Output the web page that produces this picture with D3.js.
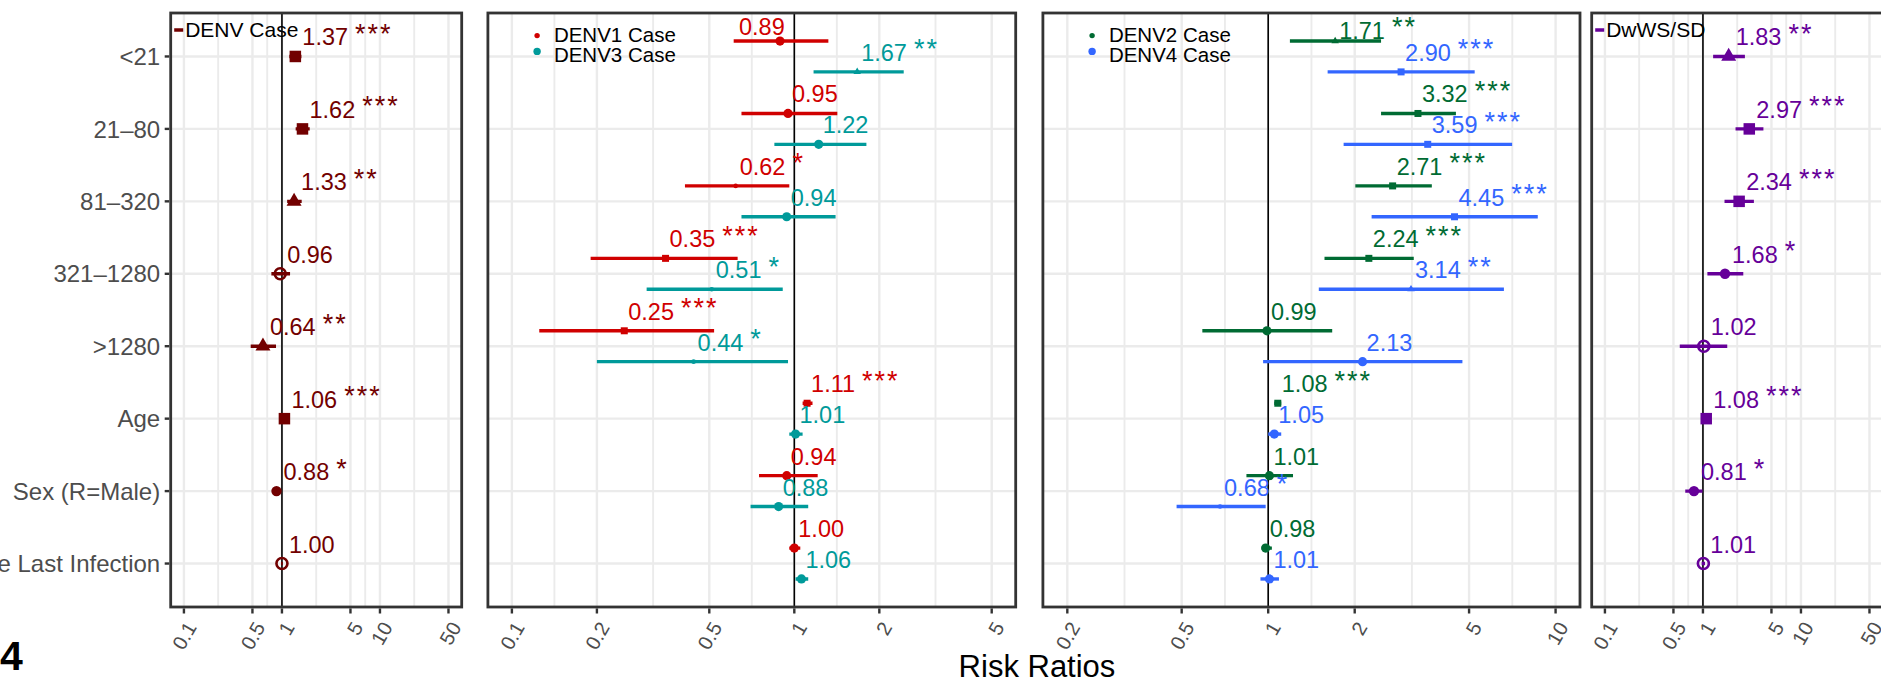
<!DOCTYPE html>
<html><head><meta charset="utf-8">
<script src="https://cdn.jsdelivr.net/npm/d3@7"></script>
<style>html,body{margin:0;padding:0;background:#fff;overflow:hidden}</style>
</head><body><svg id="c" width="1881" height="682"></svg>
<script>
// ---------------- data ----------------
const categories = ["<21","21\u201380","81\u2013320","321\u20131280",">1280","Age","Sex (R=Male)","Time Since Last Infection"];
const ticksWide   = [0.1,0.5,1,5,10,50];
const ticksDenv13 = [0.1,0.2,0.5,1,2,5];
const ticksDenv24 = [0.2,0.5,1,2,5,10];

const denvRR  = [1.37,1.62,1.33,0.96,0.64,1.06,0.88,1.00];
const denvLo  = [1.19,1.38,1.13,0.78,0.48,1.04,0.84,0.98];
const denvHi  = [1.58,1.92,1.59,1.21,0.87,1.08,0.93,1.02];
const denvSig = ["***","***","**","","**","***","*",""];

const denv1RR  = [0.89,0.95,0.62,0.35,0.25,1.11,0.94,1.00];
const denv1Lo  = [0.61,0.65,0.41,0.19,0.125,1.07,0.75,0.96];
const denv1Hi  = [1.32,1.42,0.96,0.63,0.52,1.16,1.21,1.05];
const denv1Sig = ["","","*","***","***","***","",""];

const denv3RR  = [1.67,1.22,0.94,0.51,0.44,1.01,0.88,1.06];
const denv3Lo  = [1.17,0.85,0.65,0.30,0.20,0.96,0.70,1.01];
const denv3Hi  = [2.44,1.80,1.40,0.91,0.95,1.07,1.12,1.12];
const denv3Sig = ["**","","","*","*","","",""];

const denv2RR  = [1.71,3.32,2.71,2.24,0.99,1.08,1.01,0.98];
const denv2Lo  = [1.19,2.47,2.01,1.57,0.59,1.05,0.84,0.95];
const denv2Hi  = [2.47,4.50,3.71,3.21,1.67,1.11,1.22,1.03];
const denv2Sig = ["**","***","***","***","","***","",""];

const denv4RR  = [2.90,3.59,4.45,3.14,2.13,1.05,0.68,1.01];
const denv4Lo  = [1.61,1.83,2.29,1.50,0.96,1.00,0.48,0.94];
const denv4Hi  = [5.23,7.06,8.67,6.61,4.74,1.11,0.98,1.09];
const denv4Sig = ["***","***","***","**","","","*",""];

const dwRR  = [1.83,2.97,2.34,1.68,1.02,1.08,0.81,1.01];
const dwLo  = [1.27,2.15,1.66,1.11,0.58,1.05,0.66,0.97];
const dwHi  = [2.68,4.14,3.31,2.58,1.77,1.11,0.99,1.05];
const dwSig = ["**","***","***","*","","***","*",""];

// ---------------- drawing ----------------
const svg = d3.select("#c");
const FONT = "'Liberation Sans', Arial, Helvetica, sans-serif";
svg.append("rect").attr("width",1881).attr("height",682).attr("fill","#fff");

const TOP = 13, BOTTOM = 607;
const y = d3.scalePoint().domain(categories).range([TOP, BOTTOM]).padding(0.6);
const step = y.step();

function mk(name, color, rr, lo, hi, sig){
  return {name, color, rows: categories.map((c,i)=>({cat:c, rr:rr[i], lo:lo[i], hi:hi[i], sig:sig[i]}))};
}

const panels = [
  {x0:170.7, x1:461.7, ticks:ticksWide, big:true, legend:"line", yaxis:true,
   series:[mk("DENV Case","#720000",denvRR,denvLo,denvHi,denvSig)]},
  {x0:487.9, x1:1015.7, ticks:ticksDenv13, big:false, legend:"dot",
   series:[mk("DENV1 Case","#D00000",denv1RR,denv1Lo,denv1Hi,denv1Sig),
           mk("DENV3 Case","#009A9A",denv3RR,denv3Lo,denv3Hi,denv3Sig)]},
  {x0:1042.9, x1:1580, ticks:ticksDenv24, big:false, legend:"dot",
   series:[mk("DENV2 Case","#006B33",denv2RR,denv2Lo,denv2Hi,denv2Sig),
           mk("DENV4 Case","#3366FF",denv4RR,denv4Lo,denv4Hi,denv4Sig)]},
  {x0:1591.7, x1:1882.7, ticks:ticksWide, big:true, legend:"line",
   series:[mk("DwWS/SD","#660099",dwRR,dwLo,dwHi,dwSig)]}
];

// label repel adjustment (ggrepel moved this one label left)
const repel = {"DENV1 Case|<21": -45};

panels.forEach((p, pi) => {
  const lt = d3.extent(p.ticks, t => Math.log10(t));
  const ex = (lt[1]-lt[0]) * 0.05;
  const x = d3.scaleLog().domain([Math.pow(10, lt[0]-ex), Math.pow(10, lt[1]+ex)]).range([p.x0, p.x1]);
  const g = svg.append("g");
  const clipId = "clip" + pi;
  svg.append("clipPath").attr("id", clipId).append("rect")
     .attr("x", p.x0).attr("y", TOP).attr("width", p.x1-p.x0).attr("height", BOTTOM-TOP);
  const inner = g.append("g").attr("clip-path", `url(#${clipId})`);

  // minor breaks
  const logs = p.ticks.map(t=>Math.log10(t));
  const minors = [];
  for (let i=0;i<logs.length-1;i++) minors.push((logs[i]+logs[i+1])/2);
  minors.push(logs[0] - (logs[1]-logs[0])/2);
  minors.push(logs[logs.length-1] + (logs[logs.length-1]-logs[logs.length-2])/2);
  const dom = x.domain().map(Math.log10);
  inner.selectAll(".minor").data(minors.filter(m=>m>dom[0] && m<dom[1])).join("line")
    .attr("x1", m=>x(Math.pow(10,m))).attr("x2", m=>x(Math.pow(10,m)))
    .attr("y1", TOP).attr("y2", BOTTOM).attr("stroke","#EBEBEB").attr("stroke-width",1.9);
  inner.selectAll(".major").data(p.ticks).join("line")
    .attr("x1", d=>x(d)).attr("x2", d=>x(d)).attr("y1", TOP).attr("y2", BOTTOM)
    .attr("stroke","#EBEBEB").attr("stroke-width",2.4);
  inner.selectAll(".hgrid").data(categories).join("line")
    .attr("x1", p.x0).attr("x2", p.x1).attr("y1", d=>y(d)).attr("y2", d=>y(d))
    .attr("stroke","#EBEBEB").attr("stroke-width",2.4);

  // reference line at 1
  inner.append("line").attr("x1", x(1)).attr("x2", x(1)).attr("y1", TOP).attr("y2", BOTTOM)
    .attr("stroke","#000").attr("stroke-width",1.6);

  const nS = p.series.length;
  const dodge = d => nS === 1 ? 0 : (d === 0 ? -1 : 1) * step * 0.213;

  p.series.forEach((s, si) => {
    const off = dodge(si);
    // error bars
    inner.selectAll(null).data(s.rows).join("line")
      .attr("x1", d=>x(d.lo)).attr("x2", d=>x(d.hi))
      .attr("y1", d=>y(d.cat)+off).attr("y2", d=>y(d.cat)+off)
      .attr("stroke", s.color).attr("stroke-width", 3.4);
    // points
    s.rows.forEach(d => {
      const cx = x(d.rr), cy = y(d.cat)+off;
      if (d.sig === "***") {
        const a = p.big ? 11.5 : 7;
        inner.append("rect").attr("x", cx-a/2).attr("y", cy-a/2).attr("width", a).attr("height", a).attr("fill", s.color);
      } else if (d.sig === "**") {
        const t = p.big ? 15 : 7.5;
        inner.append("path").attr("d", d3.symbol(d3.symbolTriangle, Math.sqrt(3)/4*t*t)())
          .attr("transform", `translate(${cx},${cy})`).attr("fill", s.color);
      } else if (d.sig === "*") {
        inner.append("circle").attr("cx", cx).attr("cy", cy).attr("r", p.big ? 5.2 : 2.3).attr("fill", s.color);
      } else {
        if (p.big) {
          inner.append("circle").attr("cx", cx).attr("cy", cy).attr("r", 5.5)
            .attr("fill","none").attr("stroke", s.color).attr("stroke-width", 2.6);
        } else {
          inner.append("circle").attr("cx", cx).attr("cy", cy).attr("r", 4.6).attr("fill", s.color);
        }
      }
    });
    // labels
    s.rows.forEach(d => {
      const cx = x(d.rr), cy = y(d.cat)+off;
      let lx = cx + (p.big ? 7 : 4);
      let lc = cy - 19.5;
      const key = s.name + "|" + d.cat;
      if (repel[key] !== undefined) { lx += repel[key]; lc = TOP + 13; }
      else if (lc < TOP + 17) lc = TOP + 17;
      const t = inner.append("text").attr("x", lx).attr("y", lc + 8.5)
        .attr("font-family", FONT).attr("font-size", 23.5).attr("fill", s.color)
        .text(d.rr.toFixed(2));
      if (d.sig) {
        t.append("tspan").attr("dx", 7).attr("dy", -2.5).attr("font-size", 27)
          .attr("letter-spacing", 2).text(d.sig);
      }
    });
  });

  // legend
  if (p.legend === "line") {
    const s = p.series[0];
    g.append("line").attr("x1", p.x0+3.5).attr("x2", p.x0+12.5).attr("y1", 30).attr("y2", 30)
      .attr("stroke", s.color).attr("stroke-width", 3.5);
    g.append("text").attr("x", p.x0+14.5).attr("y", 29.5+7.5).attr("font-family", FONT)
      .attr("font-size", 21).attr("fill","#000").text(s.name);
  } else {
    const dotY = [35.6, 51.4], txtY = [34.6, 55], rs = [2.7, 3.7];
    p.series.forEach((s, si) => {
      g.append("circle").attr("cx", p.x0+49.2).attr("cy", dotY[si]).attr("r", rs[si]).attr("fill", s.color);
      g.append("text").attr("x", p.x0+66).attr("y", txtY[si]+7.4).attr("font-family", FONT)
        .attr("font-size", 20.5).attr("fill","#000").text(s.name);
    });
  }

  // border
  g.append("rect").attr("x", p.x0).attr("y", TOP).attr("width", p.x1-p.x0).attr("height", BOTTOM-TOP)
    .attr("fill","none").attr("stroke","#333333").attr("stroke-width",2.8);

  // x axis ticks + labels
  g.selectAll(null).data(p.ticks).join("line")
    .attr("x1", d=>x(d)).attr("x2", d=>x(d)).attr("y1", BOTTOM+1.4).attr("y2", BOTTOM+6.5)
    .attr("stroke","#333333").attr("stroke-width",2.4);
  g.selectAll(null).data(p.ticks).join("text")
    .attr("transform", d=>`translate(${x(d)+1},${BOTTOM+13}) rotate(-60)`)
    .attr("text-anchor","end").attr("dy","0.72em")
    .attr("font-family", FONT).attr("font-size", 20).attr("fill","#4D4D4D")
    .text(d=>String(d));

  // y axis (first panel only)
  if (p.yaxis) {
    g.selectAll(null).data(categories).join("line")
      .attr("x1", p.x0-6).attr("x2", p.x0-1.4).attr("y1", d=>y(d)).attr("y2", d=>y(d))
      .attr("stroke","#333333").attr("stroke-width",2.4);
    g.selectAll(null).data(categories).join("text")
      .attr("x", p.x0-10.5).attr("y", d=>y(d)+8.6).attr("text-anchor","end")
      .attr("font-family", FONT).attr("font-size", 24).attr("fill","#4D4D4D")
      .text(d=>d);
  }
});

svg.append("text").attr("x", 1037).attr("y", 676.5).attr("text-anchor","middle")
  .attr("font-family", FONT).attr("font-size", 31).attr("fill","#000").text("Risk Ratios");
svg.append("text").attr("x", 0).attr("y", 670).attr("font-family", FONT)
  .attr("font-weight","bold").attr("font-size", 41).attr("fill","#000").text("4");
</script>
</body></html>
